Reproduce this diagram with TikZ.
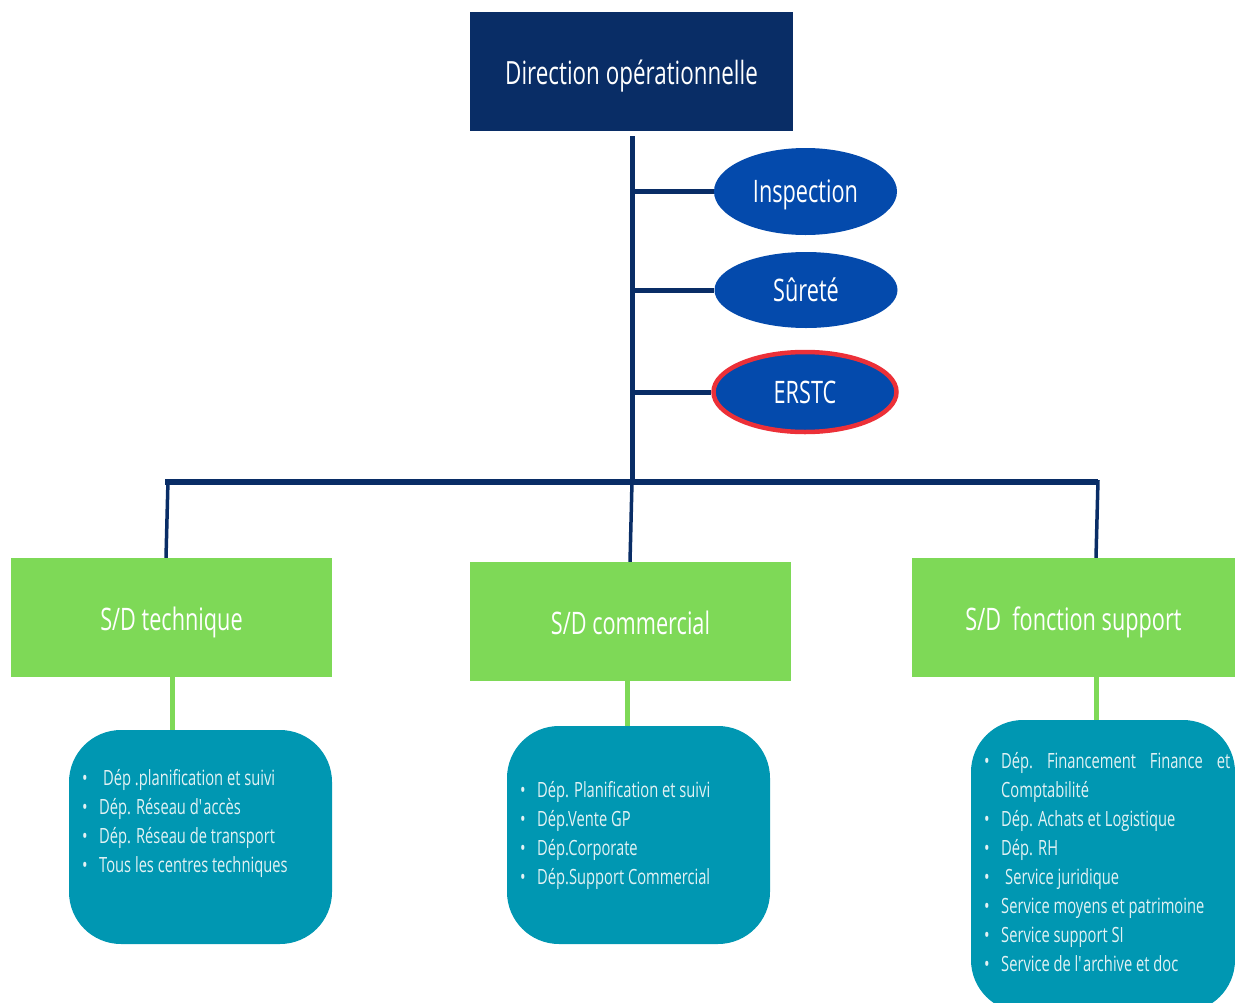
\documentclass[tikz,border=0pt]{standalone}
\usepackage{fontspec}
\setmainfont{Open Sans}[FakeStretch=0.7]
\usetikzlibrary{shapes.geometric}
\definecolor{navy}{RGB}{9,45,102}
\definecolor{royal}{RGB}{4,74,172}
\definecolor{alert}{RGB}{236,48,56}
\definecolor{leaf}{RGB}{126,217,87}
\definecolor{lagoon}{RGB}{0,151,178}
\definecolor{paletext}{RGB}{226,242,244}
\begin{document}
\begin{tikzpicture}[x=1pt,y=-1pt,
  headbox/.style={rectangle, fill=navy, text=white, inner sep=0pt,
    minimum width=323pt, minimum height=119pt, text height=35pt, text depth=10pt,
    font=\fontsize{32}{38}\selectfont},
  unitoval/.style={ellipse, fill=royal, text=white, inner sep=0pt,
    minimum width=183pt, minimum height=84pt, text height=32pt, text depth=10pt,
    font=\fontsize{31}{36}\selectfont},
  subbox/.style={rectangle, fill=leaf, text=white, inner sep=0pt,
    minimum width=321pt, minimum height=119pt, text height=35pt, text depth=10pt,
    font=\fontsize{31}{36}\selectfont},
  deptbox/.style={rectangle, rounded corners=52pt, fill=lagoon, inner sep=0pt},
  deptlist/.style={anchor=base west, inner sep=0pt, text=paletext,
    font=\fontsize{21}{29}\selectfont},
  trunk/.style={draw=navy, line width=5pt},
  bar/.style={draw=navy, line width=6pt},
  twig/.style={draw=navy, line width=3.5pt},
  greenlink/.style={draw=leaf, line width=5pt}]
\useasboundingbox (0,0) rectangle (1235,1002);
\newcommand{\bul}{\makebox[17pt][l]{\textbullet}}

% top level
\node[headbox] (dir) at (631.5,71.5) {Direction opérationnelle};

% attached units
\node[unitoval, minimum height=87pt] (insp) at (805.5,191.5) {Inspection};
\node[unitoval, minimum height=76pt] (sur) at (806,290) {Sûreté};
\node[unitoval, minimum height=80pt, draw=alert, line width=4.5pt] (erstc) at (805,392) {ERSTC};

% sub-directions
\node[subbox] (tech) at (171.5,617.5) {S/D technique};
\node[subbox] (comm) at (630.5,621.5) {S/D commercial};
\node[subbox, minimum width=323pt] (supp) at (1073.5,617.5) {S/D\ \ fonction support};

% departments
\node[deptbox, minimum width=263pt, minimum height=214pt] (techdep) at (200.5,837) {};
\node[deptbox, minimum width=263pt, minimum height=218pt] (commdep) at (638.5,835) {};
\node[deptbox, minimum width=264pt, minimum height=292pt] (suppdep) at (1103,866) {};

\node[deptlist] (techtxt) at (82,785) {\begin{tabular}[t]{@{}l@{}}
\bul\hspace{4pt}Dép .planification et suivi\\
\bul Dép. Réseau d\textquotesingle accès\\
\bul Dép. Réseau de transport\\
\bul Tous les centres techniques
\end{tabular}};

\node[deptlist] (commtxt) at (520,797) {\begin{tabular}[t]{@{}l@{}}
\bul Dép. Planification et suivi\\
\bul Dép.Vente GP\\
\bul Dép.Corporate\\
\bul Dép.Support Commercial
\end{tabular}};

\node[deptlist] (supptxt) at (984,768) {\begin{tabular}[t]{@{}l@{}}
\bul\makebox[229pt][s]{Dép.\hfill Financement\hfill Finance\hfill et}\\
\hspace{17pt}Comptabilité\\
\bul Dép. Achats et Logistique\\
\bul Dép. RH\\
\bul\hspace{4pt}Service juridique\\
\bul Service moyens et patrimoine\\
\bul Service support SI\\
\bul Service de l\textquotesingle archive et doc
\end{tabular}};

% hierarchy lines
\coordinate (barL) at (165,482);
\coordinate (barR) at (1098,482);
\coordinate (barM) at (632,482);
\draw[trunk] (dir.south -| barM) ++(0,5) -- (barM);
\draw[bar] (barL) -- (barR);
\draw[trunk] (barM |- insp.west) -- (insp.west);
\draw[trunk] (barM |- sur.west) -- (sur.west);
\draw[trunk] (barM |- erstc.west) -- (erstc.west);
\draw[twig] (168,480) -- (tech.north -| 166,0);
\draw[twig] (barM) -- (comm.north -| 630,0) ++(0,-6);
\draw[twig] (1098,480) -- (supp.north -| 1096,0);

\draw[greenlink] (tech.south -| 172,0) -- (techdep.north -| 172,0);
\draw[greenlink] (comm.south -| 627,0) -- (commdep.north -| 627,0);
\draw[greenlink] (supp.south -| 1096,0) -- (suppdep.north -| 1096,0);
\end{tikzpicture}
\end{document}
